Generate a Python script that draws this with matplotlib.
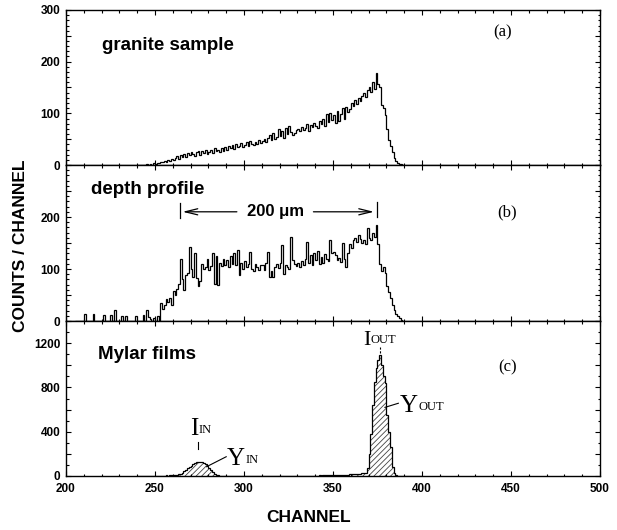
import matplotlib
matplotlib.use("Agg")
import matplotlib.pyplot as plt
import numpy as np
from matplotlib.ticker import MultipleLocator, FuncFormatter

plt.rcParams["font.family"] = ["Liberation Sans", "DejaVu Sans"]
plt.rcParams["font.weight"] = "bold"
plt.rcParams["hatch.linewidth"] = 0.6

# ─── Data (counts per channel, one bin = one channel) ─────────────────────────
START_A = 240
COUNTS_A = [
    0, 0, 0, 0, 0, 1, 0, 2, 0, 3,
    2, 4, 3, 6, 5, 8, 6, 10, 8, 12,
    10, 14, 18, 12, 20, 16, 22, 15, 24, 19,
    26, 22, 18, 25, 27, 20, 28, 24, 30, 22,
    26, 29, 24, 32, 27, 30, 25, 33, 28, 35,
    30, 36, 33, 38, 31, 40, 35, 37, 42, 34,
    39, 44, 36, 46, 41, 38, 45, 40, 48, 43,
    46, 50, 44, 52, 58, 48, 62, 50, 55, 70,
    56, 66, 52, 72, 60, 76, 64, 58, 62, 68,
    70, 65, 74, 68, 72, 80, 66, 78, 74, 82,
    76, 72, 85, 80, 90, 75, 98, 84, 100, 88,
    96, 82, 104, 86, 98, 110, 90, 112, 102, 108,
    120, 114, 126, 118, 130, 124, 134, 140, 132, 146,
    150, 142, 160, 148, 178, 156, 150, 116, 110, 96,
    70, 48, 36, 26, 14, 8, 4, 2, 1, 0,
]

START_B = 205
COUNTS_B = [
    0, 0, 0, 0, 0,
    14, 0, 0, 0, 0, 14, 0, 0, 0, 0,
    0, 12, 0, 0, 0, 12, 0, 22, 0, 0,
    0, 10, 0, 10, 0, 0, 0, 0, 0, 10,
    0, 0, 0, 12, 0, 22, 8, 4, 0, 5,
    0, 10, 0, 35, 24, 30, 42, 36, 45, 30,
    58, 50, 62, 72, 120, 80, 60, 88, 92, 143,
    100, 85, 130, 82, 68, 76, 110, 100, 104, 120,
    98, 106, 130, 72, 125, 70, 112, 106, 120, 108,
    118, 104, 125, 110, 130, 108, 136, 88, 112, 100,
    115, 104, 110, 133, 100, 96, 110, 104, 98, 108,
    108, 98, 112, 133, 84, 96, 85, 104, 110, 102,
    112, 146, 90, 108, 104, 100, 162, 118, 110, 106,
    112, 104, 115, 108, 120, 152, 112, 126, 108, 130,
    118, 134, 110, 124, 112, 128, 120, 116, 155, 130,
    133, 126, 118, 122, 113, 150, 120, 104, 130, 148,
    140, 155, 160, 152, 165, 158, 150, 156, 148, 178,
    160, 156, 170, 162, 185, 149, 110, 96, 104, 92,
    68, 56, 44, 30, 21, 14, 10, 5, 2, 0,
]

START_C = 240
COUNTS_C = [
    0, 0, 0, 0, 0, 0, 0, 0, 0, 0,
    2, 0, 3, 2, 4, 3, 5, 4, 6, 5,
    6, 8, 10, 14, 20, 30, 42, 55, 68, 80,
    92, 104, 114, 122, 127, 130, 126, 118, 105, 90,
    72, 52, 34, 20, 10, 5, 3, 2, 0, 0,
    0, 0, 0, 0, 0, 0, 0, 0, 0, 0,
    0, 0, 0, 0, 0, 0, 0, 0, 0, 0,
    0, 0, 0, 0, 0, 0, 0, 0, 0, 0,
    0, 0, 0, 0, 0, 0, 0, 0, 0, 2,
    0, 2, 0, 3, 2, 0, 3, 2, 4, 3,
    4, 3, 5, 4, 6, 5, 6, 8, 6, 8,
    7, 9, 8, 10, 9, 11, 10, 12, 12, 14,
    14, 15, 16, 18, 20, 22, 24, 26, 30, 70,
    200, 380, 640, 850, 980, 1050, 1093, 1003, 900, 837,
    551, 400, 265, 84, 30, 8, 0, 0, 0, 0,
    0, 0, 0, 0, 0, 0, 0, 0, 0, 0,
]

# y ticks shown with labels per panel
YLABELS_A = [0, 100, 200, 300]
YLABELS_B = [0, 100, 200]
YLABELS_C = [0, 400, 800, 1200]
XTICKS = [200, 250, 300, 350, 400, 450, 500]

SERIF = ["Liberation Serif", "DejaVu Serif"]


def edges(start, counts):
    return np.arange(start, start + len(counts) + 1)


def style_axis(ax, ymax, ymajor, yminor, shown, xlabels):
    ax.set_xlim(200, 500)
    ax.set_ylim(0, ymax)
    ax.xaxis.set_major_locator(MultipleLocator(50))
    ax.xaxis.set_minor_locator(MultipleLocator(10))
    ax.yaxis.set_major_locator(MultipleLocator(ymajor))
    ax.yaxis.set_minor_locator(MultipleLocator(yminor))
    ax.yaxis.set_major_formatter(
        FuncFormatter(lambda v, _: f"{int(round(v))}" if int(round(v)) in shown else ""))
    ax.tick_params(which="both", direction="in", top=True, right=True,
                   labelsize=8.5, width=0.8)
    ax.tick_params(which="major", length=3.5, pad=4)
    ax.tick_params(which="minor", length=1.8)
    ax.tick_params(axis="x", labelbottom=xlabels, pad=5)
    for sp in ax.spines.values():
        sp.set_linewidth(1.0)


def peak_label(ax, x, y, big, small, big_size=18):
    # big serif capital followed by a small-caps style tail on the same baseline
    t = ax.text(x, y, big, family=SERIF, fontweight="normal", fontsize=big_size,
                va="baseline", ha="left")
    ax.annotate(small, xy=(1.0, 0.0), xycoords=t, xytext=(0.5, 2.6),
                textcoords="offset points", family=SERIF, fontweight="normal",
                fontsize=9, va="bottom", ha="left")


fig = plt.figure(figsize=(6.17, 5.30), dpi=100)
L, W = 66 / 617, 534 / 617
ax_a = fig.add_axes([L, 1 - 165 / 530, W, 155 / 530])
ax_b = fig.add_axes([L, 1 - 321 / 530, W, 156 / 530])
ax_c = fig.add_axes([L, 1 - 476 / 530, W, 155 / 530])

# (a) granite sample
ax_a.stairs(COUNTS_A, edges(START_A, COUNTS_A), color="black", lw=0.9)
style_axis(ax_a, 300, 50, 10, YLABELS_A, False)
ax_a.text(220, 222, "granite sample", fontsize=13.5, ha="left", va="baseline")
ax_a.text(445, 257, "(a)", family=SERIF, fontweight="normal", fontsize=12,
          ha="center", va="center")

# (b) depth profile
ax_b.stairs(COUNTS_B, edges(START_B, COUNTS_B), color="black", lw=0.9)
style_axis(ax_b, 300, 50, 10, YLABELS_B, False)
ax_b.text(214, 245, "depth profile", fontsize=13.5, ha="left", va="baseline")
ax_b.text(448, 209, "(b)", family=SERIF, fontweight="normal", fontsize=12,
          ha="center", va="center")
ax_b.plot([264, 264], [199, 226], color="black", lw=0.9)
ax_b.plot([374.8, 374.8], [200, 229], color="black", lw=0.9)
arrow = dict(arrowstyle="->,head_length=0.9,head_width=0.22", lw=0.9, color="black",
             shrinkA=0, shrinkB=0)
ax_b.annotate("", xy=(265.5, 210), xytext=(296, 210), arrowprops=arrow)
ax_b.annotate("", xy=(373, 210), xytext=(339, 210), arrowprops=arrow)
ax_b.text(317.5, 210, "200 μm", fontsize=12, ha="center", va="center")

# (c) Mylar films
edges_c = edges(START_C, COUNTS_C)
ax_c.stairs(COUNTS_C, edges_c, fill=True, facecolor="white", edgecolor="#444444",
            hatch="//////", lw=0)
ax_c.stairs(COUNTS_C, edges_c, color="black", lw=0.9)
style_axis(ax_c, 1400, 200, 100, YLABELS_C, True)
ax_c.set_xticks(XTICKS)
ax_c.set_xticklabels([str(v) for v in XTICKS])
ax_c.text(218, 1057, "Mylar films", fontsize=13.5, ha="left", va="baseline")
ax_c.text(448, 985, "(c)", family=SERIF, fontweight="normal", fontsize=12,
          ha="center", va="center")

# peak labels
peak_label(ax_c, 269.5, 370, "I", "IN")
ax_c.plot([274.3, 274.3], [240, 310], color="black", lw=0.8)
peak_label(ax_c, 290.2, 99, "Y", "IN")
ax_c.plot([279, 290], [84, 174], color="black", lw=0.8)

peak_label(ax_c, 366.8, 1183, "I", "OUT", big_size=16)
ax_c.plot([376.5, 376.5], [1110, 1165], color="black", lw=0.8, ls=(0, (2, 1.5)))
peak_label(ax_c, 387.6, 581, "Y", "OUT")
ax_c.plot([379.2, 386.7], [620, 657], color="black", lw=0.8)

# axis titles
fig.text(21 / 617, 1 - 246 / 530, "COUNTS / CHANNEL", rotation=90, fontsize=12.5,
         ha="center", va="center")
fig.text(309 / 617, 1 - 518 / 530, "CHANNEL", fontsize=12.5, ha="center", va="center")

fig.savefig("out.png", dpi=100)
